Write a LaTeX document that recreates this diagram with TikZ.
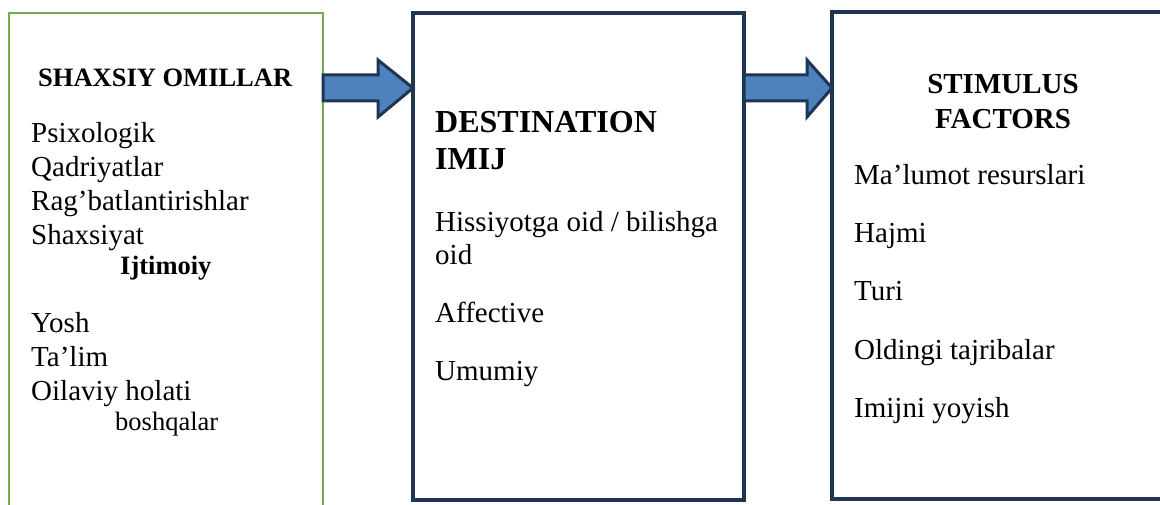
\documentclass[tikz,border=0pt]{standalone}
\usepackage{fontspec}
\setmainfont{Liberation Serif}
\definecolor{yashil}{HTML}{70AD47}
\definecolor{toq}{HTML}{1F3653}
\definecolor{kok}{HTML}{4F81BD}

\begin{document}
\begin{tikzpicture}[x=1pt, y=-1pt,
    quti/.style={draw, anchor=north west, inner sep=0pt, outer sep=0pt},
    strelka/.style={draw=toq, fill=kok, line width=3pt, line join=miter},
    matn/.style={anchor=base west, inner sep=0pt, font=\fontsize{29}{34}\selectfont},
    kichik/.style={anchor=base west, inner sep=0pt, font=\fontsize{26.5}{31}\selectfont},
    sarlavha/.style={anchor=base west, inner sep=0pt, font=\fontsize{32}{37}\selectfont\bfseries}]
    \useasboundingbox (0, 0) rectangle (1160, 505);
    \node[quti, draw=yashil, line width=2pt, minimum width=314pt, minimum height=520pt] (omil) at (9, 13) {};
    \node[quti, draw=toq, line width=4.5pt, minimum width=331pt, minimum height=487pt] (imij) at (413, 13) {};
    \node[quti, draw=toq, line width=4.5pt, minimum width=400pt, minimum height=487pt] (stim) at (832, 12) {};
    \draw[strelka] (omil.east |- 0, 75) -- (378, 75) -- (378, 60) -- (imij.west |- 0, 88)
        -- (378, 117) -- (378, 101) -- (omil.east |- 0, 101) -- cycle;
    \draw[strelka] (imij.east |- 0, 75) -- (807, 75) -- (807, 60) -- (stim.west |- 0, 88)
        -- (807, 117) -- (807, 101) -- (imij.east |- 0, 101) -- cycle;

    \node[kichik, font=\fontsize{26.5}{31}\selectfont\bfseries] (omilsar) at (38, 87) {SHAXSIY OMILLAR};
    \node[matn] (psix) at (31, 143) {Psixologik};
    \node[matn] (qadr) at (31, 177) {Qadriyatlar};
    \node[matn] (ragb) at (31, 211) {Rag’batlantirishlar};
    \node[matn] (shax) at (31, 245) {Shaxsiyat};
    \node[kichik, font=\fontsize{26.5}{31}\selectfont\bfseries] (ijti) at (120, 275) {Ijtimoiy};
    \node[matn] (yosh) at (31, 332) {Yosh};
    \node[matn] (talim) at (31, 366) {Ta’lim};
    \node[matn] (oila) at (31, 400) {Oilaviy holati};
    \node[kichik] (boshq) at (115, 430) {boshqalar};

    \node[sarlavha] (dest) at (435, 133) {DESTINATION};
    \node[sarlavha] (imijsar) at (435, 170) {IMIJ};
    \node[matn] (hiss) at (435, 232) {Hissiyotga oid / bilishga};
    \node[matn] (oid) at (435, 265) {oid};
    \node[matn] (affe) at (435, 323) {Affective};
    \node[matn] (umum) at (435, 380) {Umumiy};

    \node[matn, anchor=base, font=\fontsize{29}{34}\selectfont\bfseries] (stimsar) at (1003, 94) {STIMULUS};
    \node[matn, anchor=base, font=\fontsize{29}{34}\selectfont\bfseries] (fact) at (1003, 129) {FACTORS};
    \node[matn] (malu) at (854, 185) {Ma’lumot resurslari};
    \node[matn] (hajm) at (854, 243) {Hajmi};
    \node[matn] (turi) at (854, 301) {Turi};
    \node[matn] (oldi) at (854, 359) {Oldingi tajribalar};
    \node[matn] (yoyi) at (854, 417) {Imijni yoyish};
\end{tikzpicture}
\end{document}
